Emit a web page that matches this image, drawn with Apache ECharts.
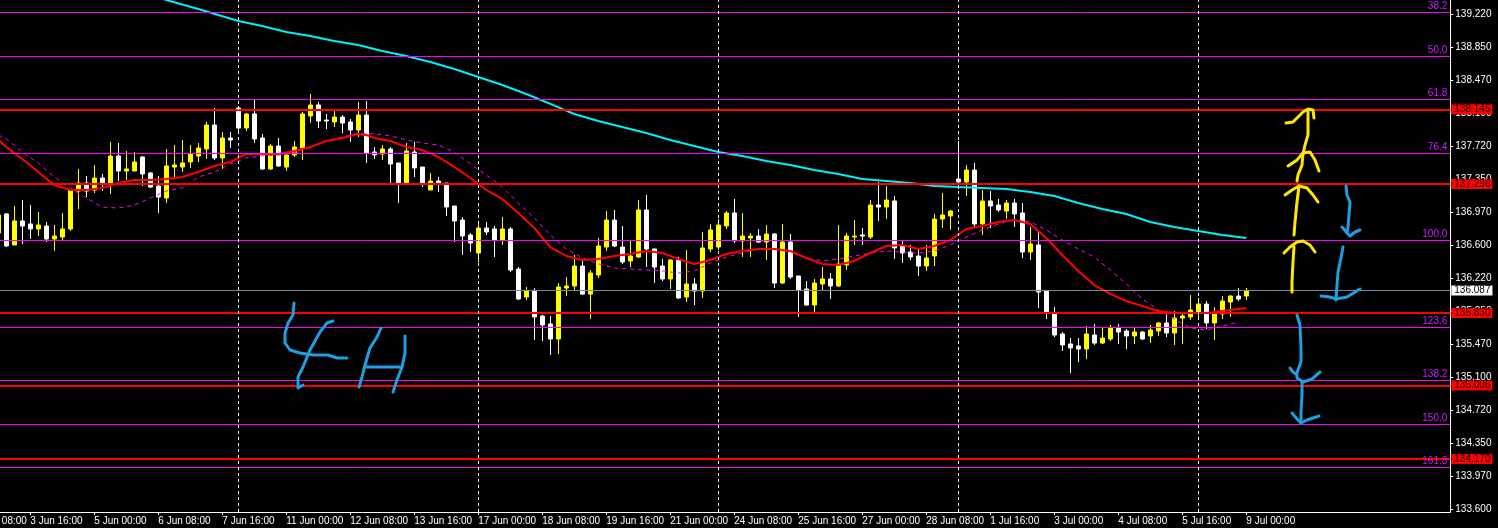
<!DOCTYPE html>
<html><head><meta charset="utf-8">
<script src="https://cdn.jsdelivr.net/npm/echarts@6/dist/echarts.min.js"></script>
<style>html,body{margin:0;padding:0;background:#000;overflow:hidden}#c{width:1498px;height:528px}</style>
</head><body><div id="c"></div>
<script>
// ---- tick labels (x labels sit on every 8th 4H bar, first one at bar -5) ----
const xTickLabels = ['31 May 08:00','3 Jun 16:00','5 Jun 00:00','6 Jun 08:00','7 Jun 16:00','11 Jun 00:00','12 Jun 08:00','13 Jun 16:00','17 Jun 00:00','18 Jun 08:00','19 Jun 16:00','21 Jun 00:00','24 Jun 08:00','25 Jun 16:00','27 Jun 00:00','28 Jun 08:00','1 Jul 16:00','3 Jul 00:00','4 Jul 08:00','5 Jul 16:00','9 Jul 00:00'];
const xTickBars = xTickLabels.map((_, k) => -5 + 8 * k);
const yTickLabels = ['133.600','133.970','134.350','134.720','135.100','135.470','135.850','136.220','136.600','136.970','137.350','137.720','138.100','138.470','138.850','139.220'];
// week separators (bar index of Monday 00:00 bars)
const weekStarts = [29, 59, 89, 119, 149];
// ---- 4H candles, from bar -1: [open, close, low, high] ----
const candles = [
[136.740,136.944,136.705,136.967],
[136.956,136.592,136.580,136.967],[136.603,136.876,136.603,137.046],[136.876,136.819,136.615,137.114],[136.842,136.785,136.671,137.057],
[136.785,136.830,136.705,136.978],[136.819,136.671,136.637,136.864],[136.671,136.705,136.535,136.830],[136.694,136.785,136.660,136.967],
[136.785,137.228,136.762,137.239],[137.216,137.307,137.012,137.467],[137.307,137.216,137.148,137.387],[137.228,137.364,137.194,137.512],
[137.364,137.307,137.216,137.410],[137.307,137.614,137.182,137.774],[137.614,137.444,137.330,137.762],[137.444,137.467,137.342,137.671],
[137.444,137.546,137.444,137.660],[137.603,137.410,137.273,137.614],[137.421,137.262,137.251,137.433],[137.273,137.148,136.967,137.387],
[137.137,137.501,137.080,137.694],[137.489,137.512,137.353,137.739],[137.489,137.535,137.433,137.796],[137.546,137.637,137.478,137.739],
[137.614,137.705,137.546,137.762],[137.694,137.966,137.580,138.001],[137.966,137.592,137.569,138.160],[137.592,137.819,137.467,137.887],
[137.819,137.796,137.705,137.887],[138.160,137.932,137.876,138.182],[137.932,138.092,137.898,138.103],[138.092,137.808,137.762,138.251],
[137.819,137.467,137.455,137.864],[137.467,137.728,137.455,137.751],[137.728,137.501,137.489,137.819],[137.489,137.626,137.444,137.637],
[137.626,137.717,137.603,137.785],[137.705,138.092,137.569,138.114],[138.069,138.194,137.989,138.319],[138.194,138.012,137.932,138.228],
[138.023,138.012,137.921,138.092],[138.001,138.057,137.944,138.137],[138.057,137.989,137.876,138.080],[138.001,137.910,137.774,138.035],
[137.910,138.080,137.830,138.228],[138.080,137.648,137.535,138.239],[137.660,137.626,137.580,137.717],[137.637,137.694,137.569,137.739],
[137.694,137.523,137.307,137.717],[137.535,137.307,137.080,137.535],[137.307,137.671,137.307,137.762],[137.660,137.478,137.376,137.774],
[137.489,137.307,137.262,137.489],[137.228,137.330,137.228,137.421],[137.330,137.296,137.205,137.376],[137.307,137.035,136.933,137.307],
[137.046,136.876,136.637,137.046],[136.887,136.705,136.489,136.921],[136.717,136.626,136.523,136.739],[136.512,136.796,136.410,136.864],
[136.796,136.751,136.717,136.864],[136.785,136.660,136.467,136.819],[136.660,136.785,136.603,136.921],[136.785,136.319,136.296,136.808],
[136.330,135.989,135.978,136.353],[136.012,136.080,135.978,136.126],[136.080,135.785,135.524,136.114],[135.796,135.694,135.512,135.807],
[135.705,135.535,135.353,135.796],[135.535,136.126,135.364,136.171],[136.114,136.137,136.023,136.239],[136.137,136.364,136.092,136.489],
[136.364,136.046,136.035,136.444],[136.046,136.285,135.762,136.319],[136.262,136.592,136.228,136.683],[136.580,136.887,136.535,136.989],
[136.887,136.592,136.580,137.001],[136.580,136.410,136.387,136.819],[136.421,136.478,136.353,136.649],[136.467,137.001,136.455,137.114],
[137.001,136.558,136.353,137.171],[136.558,136.353,136.171,136.558],[136.364,136.217,136.194,136.444],[136.217,136.433,136.103,136.444],
[136.433,136.001,135.989,136.467],[136.012,136.160,135.955,136.546],[136.160,136.080,135.921,136.228],[136.080,136.569,136.001,136.751],
[136.558,136.774,136.523,136.842],[136.580,136.830,136.546,136.898],[136.819,136.967,136.785,136.989],[136.967,136.649,136.626,137.126],
[136.649,136.705,136.467,136.967],[136.683,136.705,136.467,136.739],[136.705,136.637,136.626,136.785],[136.637,136.728,136.433,136.830],
[136.728,136.171,136.114,136.739],[136.171,136.637,136.160,136.842],[136.637,136.239,136.217,136.728],[136.251,136.092,135.785,136.251],
[136.103,135.921,135.910,136.194],[135.921,136.171,135.830,136.217],[136.160,136.217,136.092,136.353],[136.217,136.137,135.989,136.285],
[136.137,136.387,136.126,136.830],[136.376,136.705,136.319,136.739],[136.694,136.705,136.603,136.887],[136.717,136.705,136.603,136.796],
[136.694,137.057,136.671,137.114],[137.057,137.035,136.876,137.319],[137.035,137.114,136.898,137.273],[137.103,136.569,136.444,137.160],
[136.592,136.512,136.398,136.660],[136.523,136.467,136.433,136.603],[136.478,136.364,136.251,136.569],[136.364,136.455,136.308,136.603],
[136.478,136.898,136.364,136.956],[136.898,136.944,136.796,137.194],[136.933,136.989,136.774,137.001],[137.353,137.319,137.239,137.785],
[137.319,137.455,137.160,137.512],[137.455,136.842,136.808,137.535],[136.842,137.103,136.717,137.228],[137.103,137.046,136.796,137.216],
[137.057,137.001,136.978,137.126],[136.989,137.080,136.898,137.114],[137.080,136.956,136.808,137.126],[136.967,136.523,136.455,137.080],
[136.523,136.615,136.433,136.808],[136.603,136.069,135.887,136.751],[136.080,135.830,135.762,136.080],[135.819,135.580,135.557,135.898],
[135.592,135.467,135.398,135.614],[135.478,135.433,135.148,135.546],[135.455,135.421,135.273,135.546],[135.421,135.592,135.307,135.683],
[135.580,135.489,135.467,135.705],[135.489,135.546,135.478,135.660],[135.535,135.660,135.512,135.694],[135.660,135.614,135.478,135.705],
[135.626,135.569,135.421,135.648],[135.569,135.614,135.478,135.660],[135.614,135.535,135.524,135.626],[135.569,135.637,135.489,135.694],
[135.626,135.717,135.569,135.728],[135.717,135.603,135.557,135.842],[135.603,135.773,135.467,135.853],[135.773,135.796,135.478,135.842],
[135.785,135.864,135.751,136.035],[135.842,135.932,135.751,136.001],[135.932,135.717,135.648,135.966],[135.717,135.830,135.524,135.898],
[135.819,135.966,135.762,136.023],[135.955,136.023,135.785,136.035],[136.023,135.989,135.966,136.114],[136.023,136.087,135.978,136.114]
];
// ---- moving averages: [bar index, price] ----
const maRed = [[-1,137.797],[0,137.716],[2,137.580],[4,137.432],[6,137.285],[8,137.228],[10,137.228],[12,137.251],[14,137.308],[16,137.342],[18,137.342],[20,137.353],[22,137.375],[24,137.432],[26,137.500],[28,137.546],[29,137.592],[30,137.638],[32,137.638],[34,137.638],[36,137.672],[38,137.716],[40,137.785],[42,137.819],[44,137.865],[45,137.853],[46,137.819],[48,137.785],[50,137.716],[52,137.683],[54,137.603],[56,137.490],[58,137.364],[60,137.228],[62,137.126],[64,136.967],[66,136.796],[68,136.580],[70,136.478],[72,136.433],[74,136.444],[76,136.478],[78,136.501],[80,136.535],[82,136.512],[84,136.444],[86,136.388],[88,136.433],[90,136.501],[92,136.535],[94,136.558],[96,136.558],[98,136.535],[100,136.455],[102,136.388],[104,136.376],[106,136.422],[108,136.512],[110,136.592],[112,136.603],[114,136.558],[116,136.592],[118,136.660],[120,136.785],[122,136.819],[124,136.864],[126,136.887],[128,136.842],[130,136.683],[132,136.489],[134,136.308],[136,136.148],[138,136.047],[140,135.967],[142,135.910],[144,135.853],[146,135.830],[148,135.830],[150,135.830],[152,135.853],[154,135.876],[155,135.887]];
const maMagenta = [[-1,137.853],[0,137.808],[2,137.660],[4,137.535],[6,137.375],[8,137.251],[10,137.137],[12,137.034],[14,137.023],[16,137.057],[18,137.137],[20,137.217],[22,137.251],[24,137.375],[26,137.432],[28,137.524],[30,137.592],[32,137.615],[34,137.626],[36,137.649],[38,137.716],[40,137.785],[42,137.830],[44,137.876],[46,137.865],[48,137.842],[50,137.796],[52,137.762],[54,137.739],[56,137.660],[58,137.524],[60,137.398],[62,137.262],[64,137.080],[66,136.910],[68,136.717],[70,136.558],[72,136.455],[74,136.388],[76,136.342],[78,136.330],[80,136.319],[82,136.308],[84,136.285],[86,136.308],[88,136.399],[90,136.466],[92,136.512],[94,136.558],[96,136.558],[98,136.523],[100,136.455],[102,136.422],[104,136.444],[106,136.478],[108,136.512],[110,136.535],[112,136.523],[114,136.512],[116,136.535],[118,136.603],[120,136.694],[122,136.774],[124,136.842],[126,136.887],[128,136.864],[130,136.774],[132,136.660],[134,136.558],[136,136.466],[138,136.319],[140,136.160],[142,135.990],[144,135.864],[146,135.762],[148,135.660],[150,135.637],[152,135.683],[154,135.728]];
const maCyan = [[18,139.444],[20,139.387],[24,139.285],[29,139.148],[32,139.092],[35,139.023],[38,138.978],[41,138.921],[44,138.876],[47,138.807],[50,138.751],[53,138.683],[56,138.603],[59,138.512],[62,138.421],[65,138.319],[68,138.206],[71,138.092],[74,138.012],[77,137.943],[80,137.876],[83,137.796],[86,137.728],[89,137.660],[92,137.615],[95,137.558],[98,137.512],[101,137.455],[104,137.410],[107,137.353],[110,137.331],[113,137.308],[116,137.274],[119,137.262],[122,137.251],[125,137.240],[128,137.205],[131,137.160],[134,137.080],[137,137.012],[140,136.956],[143,136.864],[146,136.807],[149,136.763],[152,136.717],[155,136.683]];
// ---- horizontal levels ----
const redLevels = [138.145, 137.296, 135.830, 135.006, 134.170];
const fibPct = ['38.2','50.0','61.8','76.4','100.0','123.6','138.2','150.0','161.8'];
const fibPrice = [139.248, 138.751, 138.258, 137.646, 136.660, 135.672, 135.064, 134.569, 134.078];
const lastPrice = 136.087;
const yMin = 133.569, yMax = 139.387;
const xMin = -0.7875, xMax = 180.5;

// ---- hand-drawn annotations (screen strokes) ----
const strokesYellow = [
 [[1286,123],[1293,122],[1303,112],[1308,109],[1313,110],[1314,118]],
 [[1308,110],[1308,135],[1305,145],[1303,154]],
 [[1288,166],[1297,160],[1303,153],[1310,152],[1315,160],[1319,171]],
 [[1303,153],[1302,165],[1298,175],[1297,181]],
 [[1285,195],[1292,190],[1299,186],[1307,188],[1313,195],[1318,202]],
 [[1299,186],[1297,202],[1295,222],[1294,235]],
 [[1284,253],[1290,247],[1297,242],[1303,241],[1310,245],[1315,252]],
 [[1294,247],[1293,262],[1292,282],[1292,292]]
];
const strokesBlue = [
 [[1346,186],[1347,195],[1350,202],[1349,215],[1348,227],[1347,233],[1342,227]],
 [[1347,233],[1350,236],[1355,232],[1360,230]],
 [[1343,247],[1341,258],[1338,272],[1337,285],[1336,300]],
 [[1321,296],[1330,297],[1336,299],[1347,297],[1360,289]],
 [[1297,315],[1300,325],[1301,348],[1301,362],[1298,370],[1297,373]],
 [[1290,368],[1293,372],[1297,375],[1297,378],[1303,382],[1312,379],[1320,372]],
 [[1302,383],[1302,395],[1301,412],[1301,423]],
 [[1292,413],[1297,419],[1301,423],[1307,420],[1319,416]],
 [[294,303],[293,315],[288,323],[285,333],[285,343],[290,350],[300,353],[313,355],[328,355],[337,358],[347,358]],
 [[333,321],[327,323],[320,332],[310,350],[303,367],[298,377],[298,388],[303,385]],
 [[381,328],[377,337],[370,348],[365,365],[362,377],[359,387]],
 [[365,367],[400,367]],
 [[405,336],[405,353],[402,367],[397,380],[393,392]]
];

// ---- build ----
const FONT = "'Liberation Sans',Arial,sans-serif";
const FS = 10;
const candleData = candles.map((r, k) => [k - 1, r[0], r[1], r[2], r[3]]);
const labelOf = v => { const k = Math.round((v + 5) / 8); return xTickLabels[k] || ''; };

const hLines = [];
fibPrice.forEach((v, k) => hLines.push({
  yAxis: v, lineStyle: {color: '#ff00ff', width: 1, type: 'solid'},
  label: {show: true, position: 'insideEndTop', distance: [3, 1], formatter: fibPct[k], color: '#c81eff', fontFamily: FONT, fontSize: FS}
}));
hLines.push({
  yAxis: lastPrice, lineStyle: {color: '#778899', width: 1, type: 'solid'},
  label: {show: true, position: 'end', distance: 1, formatter: lastPrice.toFixed(3), color: '#000', backgroundColor: '#fff',
          padding: [0, 2, 0, 3], lineHeight: 10, fontFamily: FONT, fontSize: FS}
});
redLevels.forEach(v => hLines.push({
  yAxis: v, lineStyle: {color: '#ff0000', width: 2, type: 'solid'},
  label: {show: true, position: 'end', distance: 1, formatter: v.toFixed(3), color: '#1a0000', backgroundColor: '#ff0000',
          padding: [0, 2, 0, 3], lineHeight: 10, fontFamily: FONT, fontSize: FS}
}));
weekStarts.forEach(i => hLines.push({
  xAxis: i, lineStyle: {color: '#ffffff', width: 1, type: [3, 3]}, label: {show: false}
}));

const chart = echarts.init(document.getElementById('c'), null, {renderer: 'canvas'});
const grid = {left: 0, right: 47.7, top: 0, bottom: 16, containLabel: false};
const inRange = xTickBars.filter(v => v >= xMin && v <= xMax);

const graphics = [];
strokesYellow.forEach(p => graphics.push({type: 'polyline', z: 100, shape: {points: p},
  style: {stroke: '#ffe800', lineWidth: 3, fill: null, lineCap: 'round', lineJoin: 'round'}}));
strokesBlue.forEach(p => graphics.push({type: 'polyline', z: 100, shape: {points: p},
  style: {stroke: '#1e9fe2', lineWidth: 3, fill: null, lineCap: 'round', lineJoin: 'round'}}));

chart.setOption({
  backgroundColor: '#000000',
  animation: false,
  grid: grid,
  xAxis: {
    type: 'value', min: xMin, max: xMax, scale: true,
    axisLine: {show: true, onZero: false, lineStyle: {color: '#ffffff', width: 1}},
    axisTick: {show: true, length: 3, customValues: inRange, lineStyle: {color: '#ffffff'}},
    axisLabel: {show: true, customValues: inRange, align: 'left', margin: 4, color: '#ffffff', fontFamily: FONT, fontSize: FS,
      formatter: v => labelOf(v)},
    splitLine: {show: false}
  },
  yAxis: {
    type: 'value', position: 'right', min: yMin, max: yMax, scale: true,
    splitLine: {show: false},
    axisLine: {show: true, onZero: false, lineStyle: {color: '#ffffff', width: 1}},
    axisTick: {show: true, length: 3, customValues: yTickLabels.map(Number), lineStyle: {color: '#ffffff'}},
    axisLabel: {show: true, customValues: yTickLabels.map(Number), margin: 5, color: '#ffffff', fontFamily: FONT, fontSize: FS,
      formatter: v => v.toFixed(3)}
  },
  series: [
    {
      type: 'candlestick', data: candleData, barWidth: 4, z: 2, clip: true,
      encode: {x: 0, y: [1, 2, 3, 4]},
      itemStyle: {color: '#ffff00', color0: '#ffffff', borderColor: '#ffff00', borderColor0: '#ffffff', borderWidth: 1}
    },
    {type: 'line', data: maCyan, showSymbol: false, symbol: 'none', z: 3, clip: true,
     lineStyle: {color: '#00f0f8', width: 2}},
    {type: 'line', data: maMagenta, showSymbol: false, symbol: 'none', z: 3, clip: true,
     lineStyle: {color: '#ff00ff', width: 1, type: [4, 4]}},
    {type: 'line', data: maRed, showSymbol: false, symbol: 'none', z: 4, clip: true,
     lineStyle: {color: '#ff0000', width: 2}},
    {type: 'line', data: [], z: 5, silent: true,
     markLine: {silent: true, symbol: ['none', 'none'], animation: false, precision: 3, data: hLines}}
  ],
  graphic: graphics
});
// partially visible first time label, placed where its bar (-5) maps on the axis
const px = chart.convertToPixel({gridIndex: 0}, [xTickBars[0], yMin]);
chart.setOption({graphic: graphics.concat([{type: 'text', z: 50, x: px[0], y: px[1] + 4,
  style: {text: xTickLabels[0], fill: '#ffffff', font: FS + 'px ' + FONT, textAlign: 'left', textVerticalAlign: 'top'}}])});
</script></body></html>
